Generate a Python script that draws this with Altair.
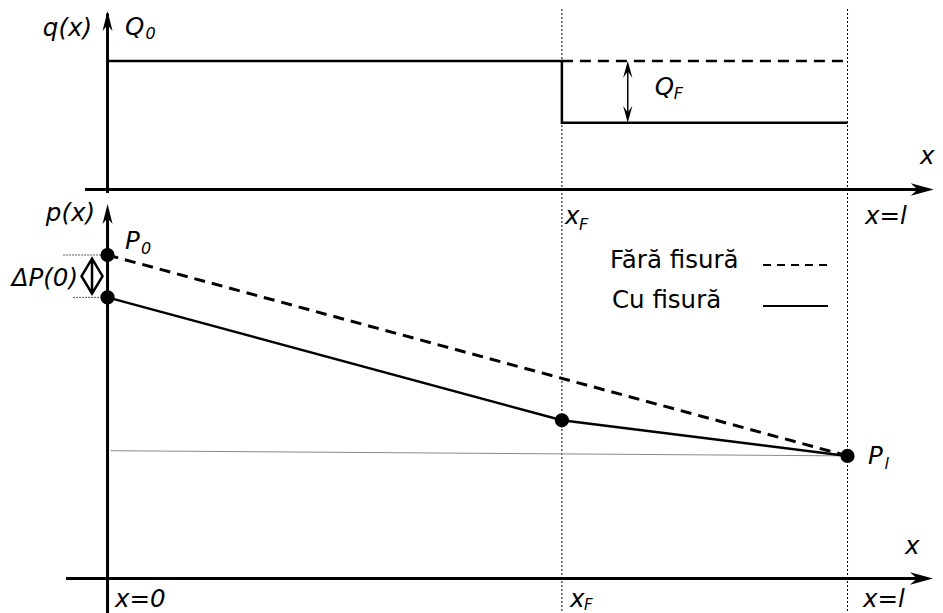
import altair as alt
import pandas as pd

FONT = "DejaVu Sans"

# ---- diagram values (normalised: beam length L = 1, Q0 = 1, P0 = 1) ----
L = 1.0
X_F = 0.614            # crack position
Q0 = 1.0
Q_AFTER = 0.52         # q(x) beyond the crack (Q0 - QF)
P0 = 1.0
P0_CRACK = 0.869       # p(0) with crack
P_XF = 0.489           # p(xF) with crack
P_L = 0.379            # p(l)

q_x = [0, X_F, X_F, L]
q_y = [Q0, Q0, Q_AFTER, Q_AFTER]
q_dash_x = [X_F, L]
q_dash_y = [Q0, Q0]

p_nocrack_x = [0, L]
p_nocrack_y = [P0, P_L]
p_crack_x = [0, X_F, L]
p_crack_y = [P0_CRACK, P_XF, P_L]

dots_x = [0, 0, X_F, L]
dots_y = [P0, P0_CRACK, P_XF, P_L]

legend_items = ["Fără fisură", "Cu fisură"]

# ---- layout scales ----
W = 927
H1, H2 = 192, 413
XDOM = [-0.1345, 1.1182]
YQ = [-0.0895, 1.4047]
YP = [-0.1097, 1.1669]
FS = 24.5
SUB = 16

X = alt.X("x:Q", scale=alt.Scale(domain=XDOM, nice=False, zero=False), axis=None)
X2 = alt.X2("x2:Q")


def Yq():
    return alt.Y("y:Q", scale=alt.Scale(domain=YQ, nice=False, zero=False), axis=None)


def Yp():
    return alt.Y("y:Q", scale=alt.Scale(domain=YP, nice=False, zero=False), axis=None)


def df(**kw):
    return pd.DataFrame(kw)


def poly(xs, ys, Y, dash=None, width=2.5, color="black"):
    props = dict(color=color, strokeWidth=width, strokeCap="butt")
    if dash:
        props["strokeDash"] = dash
    return alt.Chart(df(x=xs, y=ys, o=list(range(len(xs))))).mark_line(**props).encode(
        x=X, y=Y, order="o:Q")


def label(txt, x, y, Y, dx, dy, size=FS, italic=True, align="left"):
    return alt.Chart(df(t=[txt], x=[x], y=[y])).mark_text(
        align=align, baseline="alphabetic", dx=dx, dy=dy, fontSize=size,
        fontStyle="italic" if italic else "normal", font=FONT, color="black"
    ).encode(x=X, y=Y, text="t:N")


def arrow(x, y, Y, shape, size):
    return alt.Chart(df(x=[x], y=[y])).mark_point(
        shape=shape, size=size, filled=True, color="black", opacity=1, strokeWidth=0
    ).encode(x=X, y=Y)


RIGHT = "M0,0L-2,-0.55L-1.4,0L-2,0.55Z"
UP = "M0,0L-0.5,2L0,1.4L0.5,2Z"
UP_N = "M0,0L-0.55,2L0,1.2L0.55,2Z"
DOWN_N = "M0,0L-0.55,-2L0,-1.2L0.55,-2Z"

vlines = df(x=[X_F, L])

# ---------------- upper panel: q(x) ----------------
yq = Yq()
QF_X = 0.703
upper = alt.layer(
    alt.Chart(vlines).mark_rule(color="black", strokeWidth=1, strokeDash=[2, 2]).encode(x=X),
    poly(q_x, q_y, yq, width=2.5),
    poly(q_dash_x, q_dash_y, yq, dash=[11, 7], width=2.5),
    # double arrow QF
    alt.Chart(df(x=[QF_X], y=[Q_AFTER + 0.05], y2=[Q0 - 0.05])).mark_rule(
        color="black", strokeWidth=1.5).encode(x=X, y=yq, y2="y2:Q"),
    arrow(QF_X, Q0, yq, UP_N, 289),
    arrow(QF_X, Q_AFTER, yq, DOWN_N, 289),
    # axes
    alt.Chart(df(x=[-0.0304], x2=[1.110], y=[0])).mark_rule(
        color="black", strokeWidth=3).encode(x=X, x2=X2, y=yq),
    arrow(1.1165, 0, yq, RIGHT, 529),
    alt.Chart(df(x=[0], y=[-0.027], y2=[1.37])).mark_rule(
        color="black", strokeWidth=3).encode(x=X, y=yq, y2="y2:Q"),
    arrow(0, 1.389, yq, UP, 400),
    # labels
    label("q(x)", 0, Q0, yq, -15.5, -25, align="right"),
    label("Q", 0, Q0, yq, 17.5, -26),
    label("0", 0, Q0, yq, 38, -22, size=SUB),
    label("Q", QF_X, Q0, yq, 27, 34),
    label("F", QF_X, Q0, yq, 46, 38, size=SUB),
    label("x", L, 0, yq, 72.5, -25.5),
    label("x", X_F, 0, yq, 3, 35),
    label("F", X_F, 0, yq, 17, 41, size=SUB),
    label("x=l", L, 0, yq, 17.5, 35),
).properties(width=W, height=H1)

# ---------------- lower panel: p(x) ----------------
yp = Yp()
DIAMOND = "M0,-1L0.6,0L0,1L-0.6,0Z M0,-1L0,1"
LEG_TEXT_X = 0.679
LEG_LINE_X = [0.8858, 0.9736]
LEG_Y = [0.969, 0.8423]

lower = alt.layer(
    alt.Chart(vlines).mark_rule(color="black", strokeWidth=1, strokeDash=[2, 2]).encode(x=X),
    # thin reference lines
    poly([0.004, L], [0.395, P_L], yp, width=1, color="#8a8a8a"),
    alt.Chart(df(x=[-0.060, -0.0466], x2=[0, 0], y=[P0, P0_CRACK])).mark_rule(
        color="#555555", strokeWidth=1, strokeDash=[2, 1]).encode(x=X, x2=X2, y=yp),
    poly(p_nocrack_x, p_nocrack_y, yp, dash=[11, 7], width=3),
    poly(p_crack_x, p_crack_y, yp, width=2.5),
    # axes
    alt.Chart(df(x=[-0.0561], x2=[1.109], y=[0])).mark_rule(
        color="black", strokeWidth=3).encode(x=X, x2=X2, y=yp),
    arrow(1.1155, 0, yp, RIGHT, 529),
    alt.Chart(df(x=[0], y=[YP[0]], y2=[1.14])).mark_rule(
        color="black", strokeWidth=3).encode(x=X, y=yp, y2="y2:Q"),
    arrow(0, 1.1576, yp, UP, 400),
    alt.Chart(df(x=dots_x, y=dots_y)).mark_circle(
        size=200, color="black", opacity=1).encode(x=X, y=yp),
    # delta P(0) symbol
    alt.Chart(df(x=[0], y=[(P0 + P0_CRACK) / 2])).mark_point(
        shape=DIAMOND, size=1225, filled=False, color="black", strokeWidth=2.5,
        xOffset=-15.5, opacity=1).encode(x=X, y=yp),
    # legend
    alt.Chart(df(x=[LEG_LINE_X[0]], x2=[LEG_LINE_X[1]], y=[LEG_Y[0]])).mark_rule(
        color="black", strokeWidth=2, strokeDash=[8, 6]).encode(x=X, x2=X2, y=yp),
    alt.Chart(df(x=[LEG_LINE_X[0]], x2=[LEG_LINE_X[1]], y=[LEG_Y[1]])).mark_rule(
        color="black", strokeWidth=2).encode(x=X, x2=X2, y=yp),
    label(legend_items[0], LEG_TEXT_X, LEG_Y[0], yp, 0, 3, italic=False),
    label(legend_items[1], LEG_TEXT_X, LEG_Y[1], yp, 2, 2, italic=False),
    # labels
    label("p(x)", 0, 1.1576, yp, -12.5, 17, align="right"),
    label("P", 0, P0, yp, 17.5, -6),
    label("0", 0, P0, yp, 33.5, -1, size=SUB),
    label("ΔP(0)", 0, (P0 + P0_CRACK) / 2, yp, -29.5, 10, align="right"),
    label("P", L, P_L, yp, 20.5, 8),
    label("l", L, P_L, yp, 37, 13, size=SUB),
    label("x", L, 0, yp, 57.5, -24.5),
    label("x=0", 0, 0, yp, 7.5, 28.5),
    label("x", X_F, 0, yp, 8, 28.5),
    label("F", X_F, 0, yp, 22, 31, size=15),
    label("x=l", L, 0, yp, 15.5, 28.5),
).properties(width=W, height=H2)

chart = alt.vconcat(upper, lower, spacing=0, bounds="flush").properties(
    padding=0
).configure(font=FONT).configure_view(stroke=None)

chart.save("out.html", embed_options={"renderer": "svg", "actions": False})
